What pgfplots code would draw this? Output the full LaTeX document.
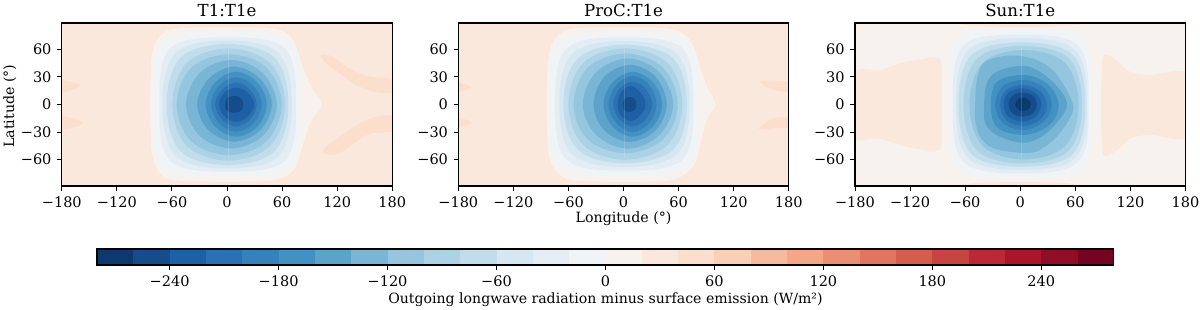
\documentclass[border=0pt]{standalone}
\usepackage{fontspec}
\setmainfont{DejaVu Serif}
\usepackage{pgfplots}
\pgfplotsset{compat=1.18}
\definecolor{c00}{RGB}{10,58,110}\definecolor{c01}{RGB}{20,77,137}\definecolor{c02}{RGB}{30,96,164}\definecolor{c03}{RGB}{42,113,178}
\definecolor{c04}{RGB}{54,129,186}\definecolor{c05}{RGB}{66,145,194}\definecolor{c06}{RGB}{92,163,204}\definecolor{c07}{RGB}{121,181,213}
\definecolor{c08}{RGB}{148,198,223}\definecolor{c09}{RGB}{171,210,229}\definecolor{c10}{RGB}{193,221,236}\definecolor{c11}{RGB}{213,231,241}
\definecolor{c12}{RGB}{227,237,243}\definecolor{c13}{RGB}{240,244,246}\definecolor{c14}{RGB}{248,242,238}\definecolor{c15}{RGB}{250,232,221}
\definecolor{c16}{RGB}{252,222,204}\definecolor{c17}{RGB}{251,206,182}\definecolor{c18}{RGB}{248,186,157}\definecolor{c19}{RGB}{244,167,133}
\definecolor{c20}{RGB}{234,143,113}\definecolor{c21}{RGB}{224,118,94}\definecolor{c22}{RGB}{213,93,76}\definecolor{c23}{RGB}{200,68,64}
\definecolor{c24}{RGB}{187,42,52}\definecolor{c25}{RGB}{170,21,42}\definecolor{c26}{RGB}{143,13,37}\definecolor{c27}{RGB}{116,4,33}
\newcommand{\ring}[2]{\addplot[fill=#1,draw=none,smooth cycle,tension=0.6,forget plot] coordinates {#2};}
\newcommand{\bin}[3]{\addplot[fill=#1,draw=none,forget plot] coordinates {(#2,0)(#3,0)(#3,1)(#2,1)} -- cycle;}
\newcommand{\seam}{\addplot[white,opacity=0.16,line width=0.6pt,forget plot] coordinates {(1,-58)(1,62)};}
\pgfplotsset{
  panel/.style={
    scale only axis,width=330.5pt,height=163pt,
    xmin=-180,xmax=180,ymin=-88.6,ymax=88.6,
    xtick={-180,-120,-60,0,60,120,180},
    xticklabels={−180,−120,−60,0,60,120,180},
    ytick={-60,-30,0,30,60},
    yticklabels={−60,−30,0,30,60},
    tick pos=left,tick align=outside,
    major tick length=4.8pt,
    tick style={black,line width=1pt},
    axis line style={line width=1.2pt},
    axis on top,
    ticklabel style={font=\fontsize{14.5}{16}\selectfont},
    xticklabel style={yshift=-2.5pt},
    yticklabel style={xshift=-2pt},
    title style={font=\fontsize{16.6}{18}\selectfont,yshift=-3.5pt},
    label style={font=\fontsize{14.2}{16}\selectfont},
  }
}
\begin{document}
\begin{tikzpicture}[x=1pt,y=1pt]
\path[use as bounding box] (0,0) rectangle (1200,309);
% ---------- panel 1
\begin{axis}[panel,at={(61.8pt,123pt)},anchor=south west,title={T1:T1e},
  ylabel={Latitude (°)},
  every axis y label/.style={at={(axis description cs:-0.157,0.49)},rotate=90,anchor=center,font=\fontsize{14.2}{16}\selectfont},
  axis background/.style={fill=c15}]
\ring{c16}{(-184,26)(-172,25)(-160,21)(-170,15.5)(-184,14)}
\ring{c16}{(-184,-14)(-170,-14.5)(-157,-20)(-168,-25)(-184,-27)}
\ring{c16}{(102.5,54)(115,52)(130,41)(152,31)(184,26.5)(184,13)(160,14)(138,23)(120,36)(107,46)}
\ring{c16}{(105,-53)(107,-46.5)(120,-37)(138,-24.5)(160,-14)(184,-12.5)(184,-28)(156,-31.7)(138,-42.5)(120,-54)}
\ring{c14}{(-84,0)(-83,30)(-81,58)(-70,77)(-50,83)(0,84)(45,83)(64,78)(74,66)(83,40)(92,18)(103,0)(92,-17)(83,-42)(75,-67)(64,-78)(45,-83)(0,-84)(-50,-83)(-70,-78)(-81,-58)(-83,-30)}
\ring{c13}{(79.6,0)(70,68)(-0.7,77.4)(-71,68)(-81,0)(-71,-68)(-0.7,-77.8)(70,-68)}
\ring{c12}{(75.3,0)(63,61)(0.7,73)(-62,61)(-73.8,0)(-62,-61)(0.7,-73)(63,-61)}
\ring{c11}{(70.5,0)(56,56)(0,69.5)(-56,56)(-70.5,0)(-56,-56)(0,-69.5)(56,-56)}
\ring{c10}{(66.9,0)(51.5,51)(0.5,65.8)(-50.5,51)(-65.8,0)(-50.5,-51)(0.5,-65.8)(51.5,-51)}
\ring{c09}{(63.3,0)(47,45)(1.9,61)(-44,45)(-59.6,0)(-44,-45)(1.9,-61)(47,-45)}
\ring{c08}{(59.6,0)(43,40)(2.3,54.6)(-39,40)(-54.9,0)(-39,-40)(2.3,-55)(43,-40)}
\ring{c07}{(54.2,0)(39,34)(4.7,48.4)(-30,34)(-44.7,0)(-30,-34)(4.7,-47.7)(39,-34)}
\ring{c06}{(48.7,0)(36,28)(8,41.2)(-20,28)(-32.4,0)(-20,-28)(8,-40.4)(36,-28)}
\ring{c05}{(43.3,0)(33,24)(10,35.7)(-13,24)(-23.3,0)(-13,-24)(10,-35)(33,-24)}
\ring{c04}{(37.8,0)(29,20)(10,29.6)(-9,20)(-17.4,0)(-9,-20)(10,-29.5)(29,-20)}
\ring{c03}{(32.4,0)(25,16)(10,23.8)(-5.5,16)(-13,0)(-5.5,-16)(10,-24)(25,-16)}
\ring{c02}{(29.5,0)(23,12.6)(10,18.3)(-3,12.6)(-8.7,0)(-3,-12.6)(10,-18.7)(23,-12.6)}
\ring{c01}{(17.8,0)(15,7)(7.8,9.3)(0,7)(-2.2,0)(0,-7)(7.8,-8.9)(15,-7)}
\seam
\end{axis}
% ---------- panel 2
\begin{axis}[panel,at={(458.3pt,123pt)},anchor=south west,title={ProC:T1e},
  xlabel={Longitude (°)},xlabel style={yshift=3pt},
  axis background/.style={fill=c15}]
\ring{c16}{(-184,23)(-175,22.5)(-165.5,19)(-175,15)(-184,14)}
\ring{c16}{(-184,-15.2)(-175,-15.5)(-165.5,-20)(-175,-23.5)(-184,-24.3)}
\ring{c16}{(149,24.7)(160,26)(184,23)(184,13.8)(163.6,15.6)(154.5,20)}
\ring{c16}{(147,-26)(154.5,-20.7)(163.6,-15)(184,-14)(184,-24.3)(163.6,-25.4)(154.5,-27)}
\ring{c14}{(-83.6,0)(-83,30)(-80,60)(-69,77)(-50,83)(0,84)(45,83)(65,77)(76,64)(83,42)(90,21)(100,0)(91,-15)(84,-42)(78,-64)(65,-77)(45,-83)(0,-84)(-50,-83)(-69,-77)(-80,-60)(-83,-30)}
\ring{c13}{(80,0)(70,68)(-0.5,77)(-71,68)(-81,0)(-71,-68)(-0.5,-77)(70,-68)}
\ring{c12}{(76,0)(64,61)(0.75,73)(-62,61)(-74.5,0)(-62,-60)(0.75,-72)(64,-60)}
\ring{c11}{(72,0)(58,55)(1,69)(-56,55)(-70,0)(-56,-54)(1,-68)(58,-54)}
\ring{c10}{(69,0)(54,50)(1.75,65)(-50,50)(-65.5,0)(-50,-49)(1.75,-64)(54,-49)}
\ring{c09}{(64,0)(48,45)(2,61)(-44,45)(-60,0)(-44,-44)(2,-60)(48,-44)}
\ring{c08}{(59,0)(43,40)(2.25,55.5)(-39,40)(-54.5,0)(-39,-38)(2.25,-53)(43,-38)}
\ring{c07}{(54,0)(39,35)(4.8,50)(-30,35)(-44.4,0)(-30,-33)(4.8,-48)(39,-33)}
\ring{c06}{(47,0)(35,30)(7,43)(-21,30)(-32.7,0)(-21,-28)(7,-40.6)(35,-28)}
\ring{c05}{(42,0)(32,24)(10,35.5)(-12,24)(-21.8,0)(-12,-24)(10,-35)(32,-24)}
\ring{c04}{(36,0)(28,21)(10,31)(-8,21)(-16.4,0)(-8,-20)(10,-30)(28,-20)}
\ring{c03}{(31,0)(24,17)(10,25)(-4.5,17)(-11,0)(-4.5,-16)(10,-24)(24,-16)}
\ring{c02}{(24,0)(20,11)(9,20)(-2,14)(-6.5,0)(-2,-13)(9,-18)(20,-10)}
\ring{c01}{(14,0)(12,6)(6.5,8.3)(1,6)(-0.7,0)(1,-6)(6.5,-8)(12,-6)}
\seam
\end{axis}
% ---------- panel 3
\begin{axis}[panel,at={(855pt,123pt)},anchor=south west,title={Sun:T1e},
  axis background/.style={fill=c14}]
\ring{c15}{(-184,32)(-153,37.4)(-131,44.6)(-109,49)(-88,49.3)(-85.6,19)(-85.6,-24)(-88,-49)(-109,-49)(-131,-44)(-153,-37)(-184,-33.4)}
\ring{c15}{(90.4,52.6)(99.5,52)(108.6,44.6)(119.5,35.5)(141,32)(184,32)(184,-33)(141,-33)(119.5,-37)(105,-50)(91,-55)(88.6,-31.5)(87.8,0)(88.6,30)}
\ring{c15}{(-80,92)(-50,85.5)(0,84.5)(50,85.5)(80,92)}
\ring{c15}{(-80,-92)(-50,-85.5)(0,-84.5)(50,-85.5)(80,-92)}
\ring{c13}{(77,0)(68,72)(0,81.8)(-68,72)(-77,0)(-68,-70)(0,-79)(68,-70)}
\ring{c12}{(74.5,0)(63,64)(0.5,75.6)(-62,64)(-73.5,0)(-62,-62)(0.5,-75)(63,-62)}
\ring{c11}{(72.7,0)(60,59)(1.5,72)(-57,59)(-69.8,0)(-57,-58)(1.5,-71)(60,-58)}
\ring{c10}{(70.9,0)(57,54)(1.8,67.6)(-53,54)(-67.3,0)(-53,-54)(1.8,-67.6)(57,-54)}
\ring{c09}{(67.2,0)(53,50)(2.7,63.7)(-47,50)(-61.8,0)(-47,-50)(2.7,-64)(53,-50)}
\ring{c08}{(63.6,0)(49,45)(4,59.3)(-41,45)(-55.3,0)(-41,-45)(4,-59.7)(49,-45)}
\ring{c07}{(57.4,0)(40,32)(21.8,46.6)(0,52.8)(-22,52)(-40,44.8)(-47.3,26.7)(-49.1,0)(-49,-17)(-43.7,-35)(-29,-47.7)(0,-52.4)(18,-51)(36,-38.6)(51,-20)}
\ring{c06}{(50.9,0)(38,22)(18,37.5)(0,42)(-25.5,35.7)(-36.4,23)(-39.3,0)(-38,-20.5)(-25.5,-33.2)(0,-41.5)(20,-36.8)(38,-22)}
\ring{c05}{(41.8,0)(30,22)(5,32)(-25,25)(-32,0)(-25,-25)(5,-33)(32,-22)}
\ring{c04}{(34.5,0)(25,19)(3.6,26.7)(-19,20)(-27.3,0)(-19,-20)(3.6,-27.7)(26,-18)}
\ring{c03}{(29,0)(21,15)(3.5,21.2)(-15,16)(-21.9,0)(-15,-17)(3.5,-23.4)(22,-16)}
\ring{c02}{(22.9,0)(17,12)(2.4,17.6)(-13,13)(-18.2,0)(-13,-13)(2.4,-18.7)(17,-13)}
\ring{c01}{(18.1,0)(13.5,9.5)(2.6,12.9)(-8.5,9.5)(-12.8,0)(-8.5,-9.5)(2.6,-13.2)(13.5,-9.5)}
\ring{c00}{(11.6,0)(9,5)(3,7.4)(-3,5)(-5.5,0)(-3,-5)(3,-7)(9,-5)}
\seam
\end{axis}
% ---------- colour bar
\begin{axis}[scale only axis,width=1017pt,height=16pt,at={(97pt,44pt)},anchor=south west,
  xmin=-280,xmax=280,ymin=0,ymax=1,ytick=\empty,
  xtick={-240,-180,-120,-60,0,60,120,180,240},
  xticklabels={−240,−180,−120,−60,0,60,120,180,240},
  xtick pos=bottom,tick align=outside,major tick length=4.8pt,
  tick style={black,line width=1pt},
  axis line style={line width=1.1pt},axis on top,
  ticklabel style={font=\fontsize{14.5}{16}\selectfont},
  xticklabel style={yshift=-2pt},
  xlabel={Outgoing longwave radiation minus surface emission (W/m²)},
  label style={font=\fontsize{14.1}{16}\selectfont},xlabel style={yshift=0pt}]
\bin{c00}{-280}{-260}\bin{c01}{-260}{-240}\bin{c02}{-240}{-220}\bin{c03}{-220}{-200}
\bin{c04}{-200}{-180}\bin{c05}{-180}{-160}\bin{c06}{-160}{-140}\bin{c07}{-140}{-120}
\bin{c08}{-120}{-100}\bin{c09}{-100}{-80}\bin{c10}{-80}{-60}\bin{c11}{-60}{-40}
\bin{c12}{-40}{-20}\bin{c13}{-20}{0}\bin{c14}{0}{20}\bin{c15}{20}{40}
\bin{c16}{40}{60}\bin{c17}{60}{80}\bin{c18}{80}{100}\bin{c19}{100}{120}
\bin{c20}{120}{140}\bin{c21}{140}{160}\bin{c22}{160}{180}\bin{c23}{180}{200}
\bin{c24}{200}{220}\bin{c25}{220}{240}\bin{c26}{240}{260}\bin{c27}{260}{280}
\end{axis}
\end{tikzpicture}
\end{document}
